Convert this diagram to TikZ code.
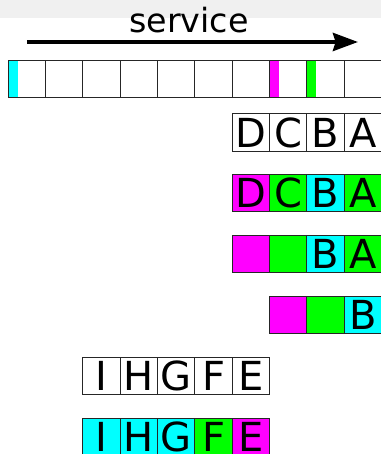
\documentclass[tikz,border=0pt]{standalone}
\usepackage{fontspec}
\setmainfont{DejaVu Sans}
\usetikzlibrary{arrows.meta}

\definecolor{bandgray}{HTML}{F0F0F0}
\definecolor{slotcyan}{RGB}{0,255,255}
\definecolor{slotmag}{RGB}{255,0,255}
\definecolor{slotgreen}{RGB}{0,255,0}

\begin{document}
\begin{tikzpicture}[
    x=28pt, y=28pt,
    every node/.style={inner sep=0pt},
    cell/.style={draw=black!85, line width=0.75pt, minimum size=28pt, anchor=north west,
                 font=\fontsize{30}{30}\selectfont},
    mag/.style={fill=slotmag},
    grn/.style={fill=slotgreen},
    cyn/.style={fill=slotcyan},
]
\useasboundingbox (0,0) rectangle (10.206,-12.162);

% grey strip along the top
\fill[bandgray] (0,0) rectangle (10.206,-0.482);

% direction of service
\node[font=\fontsize{25}{25}\selectfont, anchor=base] (title) at (5.06,-0.884) {service};
\coordinate (from) at (0.723,-1.125);
\coordinate (to) at (9.59,-1.125);
\draw[line width=3pt, -{Stealth[length=18.75pt, width=13.5pt, inset=2pt]}] (from) -- (to);

% slot markers, drawn first so the borders stay on top
\fill[slotcyan] (0.206,-1.607) rectangle ++(0.27,-1);
\fill[slotmag] (7.206,-1.607) rectangle ++(0.27,-1);
\fill[slotgreen] (8.206,-1.607) rectangle ++(0.27,-1);

% the slots
\foreach \i in {0,...,9}
    \node[cell] (q\i) at (0.206+\i,-1.607) {};

% first queue
\node[cell] (a1) at (6.206,-3.035) {D};
\node[cell] (a2) at (7.206,-3.035) {C};
\node[cell] (a3) at (8.206,-3.035) {B};
\node[cell] (a4) at (9.206,-3.035) {A};

\node[cell, mag] (b1) at (6.206,-4.661) {D};
\node[cell, grn] (b2) at (7.206,-4.661) {C};
\node[cell, cyn] (b3) at (8.206,-4.661) {B};
\node[cell, grn] (b4) at (9.206,-4.661) {A};

\node[cell, mag] (c1) at (6.206,-6.295) {};
\node[cell, grn] (c2) at (7.206,-6.295) {};
\node[cell, cyn] (c3) at (8.206,-6.295) {B};
\node[cell, grn] (c4) at (9.206,-6.295) {A};

\node[cell, mag] (d1) at (7.206,-7.929) {};
\node[cell, grn] (d2) at (8.206,-7.929) {};
\node[cell, cyn] (d3) at (9.206,-7.929) {B};

% second queue
\node[cell] (e1) at (2.206,-9.555) {I};
\node[cell] (e2) at (3.206,-9.555) {H};
\node[cell] (e3) at (4.206,-9.555) {G};
\node[cell] (e4) at (5.206,-9.555) {F};
\node[cell] (e5) at (6.206,-9.555) {E};

\node[cell, cyn] (f1) at (2.206,-11.197) {I};
\node[cell, cyn] (f2) at (3.206,-11.197) {H};
\node[cell, cyn] (f3) at (4.206,-11.197) {G};
\node[cell, grn] (f4) at (5.206,-11.197) {F};
\node[cell, mag] (f5) at (6.206,-11.197) {E};

\end{tikzpicture}
\end{document}
